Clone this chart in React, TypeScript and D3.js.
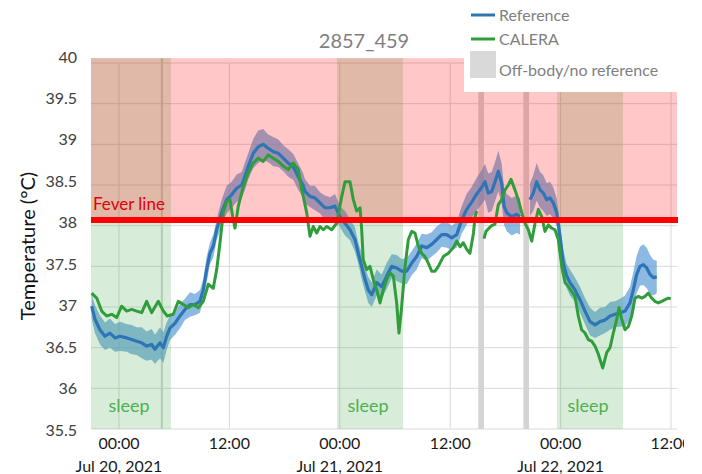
import React, { useEffect, useRef } from "react";
import * as d3 from "d3";

// ---- data (hours since 2021-07-20 00:00) ----
const refHours = [-2.97, -2.61, -2.07, -1.52, -0.98, -0.43, 0.11, 0.84, 1.38, 1.92, 2.47, 3.01, 3.55, 3.91, 4.46, 4.82, 5.18, 5.54, 6.09, 6.63, 7.17, 7.72, 8.26, 8.8, 9.16, 9.53, 9.89, 10.25, 10.62, 11.16, 11.71, 12.25, 12.79, 13.34, 13.7, 14.05, 14.6, 15.14, 15.68, 16.23, 16.77, 17.32, 17.86, 18.4, 18.95, 19.49, 20.0, 20.22, 20.76, 21.3, 21.85, 22.39, 22.93, 23.48, 24.02, 24.57, 25.11, 25.65, 26.01, 26.38, 26.74, 27.1, 27.47, 28.01, 28.55, 29.1, 29.64, 30.18, 30.73, 31.27, 31.82, 32.36, 32.9, 33.45, 33.99, 34.53, 35.08, 35.62, 36.16, 36.71, 37.25, 37.79, 38.34, 38.88, 39.42, 39.78, 40.14, 40.51, 40.87, 41.23, 41.6, 41.85, 42.14, 42.68, 43.23, 43.59, 44.1, 44.67, 45.03, 45.4, 45.76, 46.12, 46.49, 46.85, 47.21, 47.58, 47.93, 48.29, 48.66, 49.02, 49.57, 50.11, 50.65, 51.2, 51.74, 52.28, 52.83, 53.37, 53.91, 54.46, 55.0, 55.54, 55.9, 56.27, 56.63, 56.99, 57.36, 57.72, 58.08, 58.45];
const refValues = [37.01, 36.85, 36.72, 36.64, 36.68, 36.62, 36.64, 36.62, 36.6, 36.58, 36.56, 36.52, 36.54, 36.48, 36.56, 36.5, 36.64, 36.74, 36.8, 36.89, 36.97, 37.03, 37.03, 37.07, 37.21, 37.46, 37.66, 37.75, 37.95, 38.16, 38.32, 38.38, 38.46, 38.5, 38.61, 38.73, 38.89, 38.97, 39.0, 38.95, 38.91, 38.89, 38.83, 38.77, 38.72, 38.6, 38.5, 38.42, 38.36, 38.34, 38.28, 38.22, 38.22, 38.24, 38.11, 38.03, 37.95, 37.83, 37.66, 37.5, 37.34, 37.21, 37.15, 37.3, 37.25, 37.38, 37.5, 37.48, 37.44, 37.44, 37.54, 37.62, 37.75, 37.73, 37.77, 37.83, 37.89, 37.89, 37.85, 37.89, 38.07, 38.2, 38.29, 38.39, 38.47, 38.54, 38.4, 38.42, 38.54, 38.67, 38.52, 38.24, 38.16, 38.11, 38.14, 38.11, null, 38.32, 38.4, 38.54, 38.44, 38.4, 38.32, 38.34, 38.28, 38.16, 37.87, 37.54, 37.38, 37.3, 37.21, 37.09, 36.95, 36.82, 36.78, 36.82, 36.84, 36.89, 36.91, 36.93, 36.95, 37.05, 37.21, 37.4, 37.5, 37.52, 37.48, 37.4, 37.36, 37.37];
const refSpread = [
  0.15, 0.17, 0.18, 0.17, 0.18, 0.17, 0.18, 0.17, 0.18, 0.17,
  0.19, 0.18, 0.19, 0.18, 0.19, 0.19, 0.17, 0.15, 0.14, 0.15,
  0.13, 0.15, 0.13, 0.14, 0.13, 0.16, 0.13, 0.14, 0.13, 0.16,
  0.17, 0.16, 0.17, 0.16, 0.17, 0.16, 0.18, 0.2, 0.19, 0.17,
  0.18, 0.17, 0.16, 0.17, 0.16, 0.16, 0.15, 0.15, 0.13, 0.15,
  0.13, 0.15, 0.13, 0.15, 0.13, 0.15, 0.13, 0.15, 0.13, 0.16,
  0.15, 0.16, 0.15, 0.16, 0.15, 0.16, 0.15, 0.16, 0.15, 0.16,
  0.15, 0.16, 0.15, 0.16, 0.15, 0.16, 0.15, 0.16, 0.15, 0.16,
  0.17, 0.19, 0.19, 0.2, 0.21, 0.22, 0.24, 0.24, 0.24, 0.25,
  0.24, 0.23, 0.23, 0.23, 0.23, 0.22, 0, 0.2, 0.22, 0.23,
  0.22, 0.22, 0.2, 0.2, 0.19, 0.17, 0.16, 0.16, 0.15, 0.16,
  0.15, 0.16, 0.16, 0.17, 0.16, 0.17, 0.16, 0.17, 0.16, 0.17,
  0.19, 0.2, 0.22, 0.23, 0.24, 0.25, 0.25, 0.24, 0.22, 0.2,
];

const caleraHours = [-2.97, -2.42, -1.88, -1.34, -0.79, -0.25, 0.29, 0.84, 1.38, 1.92, 2.47, 3.01, 3.55, 4.27, 4.82, 5.25, 5.9, 6.45, 6.99, 7.53, 8.08, 8.62, 9.16, 9.71, 10.25, 10.62, 10.98, 11.34, 11.71, 12.07, 12.36, 12.61, 12.97, 13.51, 14.05, 14.6, 15.14, 15.68, 16.23, 16.77, 17.32, 17.86, 18.4, 18.95, 19.49, 19.85, 20.03, 20.4, 20.76, 21.12, 21.49, 21.85, 22.21, 22.58, 23.12, 23.66, 24.21, 24.57, 25.11, 25.47, 25.84, 26.2, 26.38, 26.55, 26.92, 27.28, 27.64, 28.01, 28.37, 28.73, 29.1, 29.46, 29.82, 30.18, 30.43, 30.73, 31.09, 31.45, 31.82, 32.17, 32.53, 32.9, 33.26, 33.62, 33.99, 34.35, 34.71, 35.25, 35.79, 36.34, 36.71, 37.07, 37.42, 37.79, 38.15, 38.53, 38.7, 38.88, 39.3, 39.67, 39.89, 40.14, 40.51, 40.87, 41.23, 41.6, 41.96, 42.32, 42.61, 43.04, 43.4, 43.77, 44.13, 44.49, 44.86, 45.22, 45.58, 45.95, 46.3, 46.66, 47.03, 47.39, 47.75, 48.12, 48.48, 48.84, 49.21, 49.57, 49.92, 50.29, 50.65, 51.01, 51.38, 51.74, 52.1, 52.58, 53.01, 53.37, 53.73, 54.1, 54.35, 54.64, 55.0, 55.36, 55.73, 56.09, 56.45, 56.82, 57.17, 57.53, 57.9, 58.26, 58.62, 58.99, 59.35, 59.71, 59.97];
const caleraValues = [37.17, 37.11, 36.95, 36.89, 36.91, 36.87, 37.01, 36.95, 36.97, 36.95, 36.93, 37.07, 36.93, 37.07, 36.95, 36.89, 36.91, 37.07, 37.03, 36.99, 37.03, 36.99, 37.07, 37.28, 37.23, 37.46, 37.79, 38.16, 38.3, 38.32, 38.11, 37.97, 38.24, 38.48, 38.65, 38.77, 38.83, 38.79, 38.87, 38.83, 38.79, 38.73, 38.69, 38.77, 38.69, 38.45, 38.36, 38.16, 37.87, 37.99, 37.91, 37.99, 37.95, 37.99, 37.95, 38.03, 38.36, 38.54, 38.54, 38.32, 38.18, 38.22, 37.95, 37.58, 37.46, 37.5, 37.34, 37.21, 37.05, 37.21, 37.34, 37.42, 37.38, 37.05, 36.68, 37.01, 37.5, 37.83, 37.93, 37.91, 37.75, 37.66, 37.62, 37.54, 37.44, 37.44, 37.5, 37.62, 37.66, 37.73, 37.81, 37.74, 37.79, 37.71, 37.66, 37.91, 38.11, 38.18, null, 37.84, 37.93, 37.96, 38.0, 38.02, 38.26, 38.32, 38.44, 38.5, 38.57, 38.44, 38.32, 38.16, 38.03, 37.95, 37.81, 38.03, 38.2, 38.11, 37.93, 38.01, 37.97, 37.95, 37.83, 37.5, 37.3, 37.25, 37.19, 37.13, 36.89, 36.72, 36.68, 36.6, 36.58, 36.52, 36.42, 36.25, 36.44, 36.5, 36.68, 36.85, 36.99, 36.85, 36.72, 36.76, 36.89, 37.11, 37.13, 37.11, 37.13, 37.17, 37.11, 37.07, 37.05, 37.07, 37.09, 37.11, 37.1];

const sleepStart = [-3.04, 23.7, 47.61];
const sleepEnd = [5.65, 30.87, 54.78];
const offBodyStart = [4.55, 39.05, 43.95];
const offBodyEnd = [4.78, 39.67, 44.57];

const yTicks = [35.5, 36, 36.5, 37, 37.5, 38, 38.5, 39, 39.5, 40];
const xTickHours = [0, 12, 24, 36, 48, 60];
const FEVER = 38.07;
const SHADE_TOP = 40.06;
const TITLE = "2857_459";

const BASE = new Date(2021, 6, 20, 0, 0, 0).getTime();
const h2d = (h: number) => new Date(BASE + h * 3600 * 1000);

const FONT = "Lato, 'Open Sans', sans-serif";

export default function App() {
  const ref = useRef<SVGSVGElement>(null);

  useEffect(() => {
    const svg = d3.select(ref.current);
    svg.selectAll("*").remove();

    const x = d3.scaleTime().domain([h2d(-3.04), h2d(60.65)]).range([91, 677]);
    const y = d3.scaleLinear().domain([35.5, 40]).range([429, 63]);
    const labelY = d3.scaleLinear().domain([35.5, 40]).range([430, 57]);

    const defs = svg.append("defs");
    defs.append("clipPath").attr("id", "xclip").append("rect").attr("x", 0).attr("y", 0).attr("width", 684).attr("height", 474);

    // gridlines
    const grid = svg.append("g");
    grid.selectAll("line.h").data(yTicks).join("line")
      .attr("x1", 91).attr("x2", 677)
      .attr("y1", d => y(d)).attr("y2", d => y(d))
      .attr("stroke", "#d9d9d9").attr("stroke-width", 1);
    grid.selectAll("line.v").data(xTickHours).join("line")
      .attr("x1", d => x(h2d(d))).attr("x2", d => x(h2d(d)))
      .attr("y1", y(40)).attr("y2", y(35.5))
      .attr("stroke", "#d9d9d9").attr("stroke-width", 1);

    // off-body bars
    svg.append("g").selectAll("rect").data(offBodyStart).join("rect")
      .attr("x", (d) => x(h2d(d)))
      .attr("width", (d, i) => x(h2d(offBodyEnd[i])) - x(h2d(d)))
      .attr("y", y(SHADE_TOP)).attr("height", y(35.5) - y(SHADE_TOP))
      .attr("fill", "#d4d4d4");

    // reference band
    const refData = refHours.map((h, i) => ({ t: h2d(h), v: refValues[i], s: refSpread[i] }));
    const area = d3.area<any>()
      .defined(d => d.v != null)
      .x(d => x(d.t))
      .y0(d => y(d.v - d.s))
      .y1(d => y(d.v + d.s));
    svg.append("path").datum(refData).attr("d", area as any)
      .attr("fill", "#5b9bd5").attr("fill-opacity", 0.7);

    // sleep overlays
    svg.append("g").selectAll("rect").data(sleepStart).join("rect")
      .attr("x", d => x(h2d(d)))
      .attr("width", (d, i) => x(h2d(sleepEnd[i])) - x(h2d(d)))
      .attr("y", y(SHADE_TOP)).attr("height", y(35.5) - y(SHADE_TOP))
      .attr("fill", "rgb(76,175,80)").attr("fill-opacity", 0.22);

    // fever region overlay
    svg.append("rect")
      .attr("x", 91).attr("width", 677 - 91)
      .attr("y", y(SHADE_TOP)).attr("height", y(FEVER) - y(SHADE_TOP))
      .attr("fill", "rgb(255,0,0)").attr("fill-opacity", 0.22);

    // lines
    const line = d3.line<any>().defined(d => d.v != null).x(d => x(d.t)).y(d => y(d.v));
    svg.append("path").datum(refData).attr("d", line as any)
      .attr("fill", "none").attr("stroke", "#2e75b6").attr("stroke-width", 3.2).attr("stroke-linejoin", "round");
    const calData = caleraHours.map((h, i) => ({ t: h2d(h), v: caleraValues[i] }));
    svg.append("path").datum(calData).attr("d", line as any)
      .attr("fill", "none").attr("stroke", "#2f9e3a").attr("stroke-width", 3).attr("stroke-linejoin", "round");

    // fever line
    svg.append("line").attr("x1", 91).attr("x2", 678).attr("y1", y(FEVER)).attr("y2", y(FEVER))
      .attr("stroke", "#ff0000").attr("stroke-width", 6);
    svg.append("text").attr("x", 93).attr("y", y(FEVER) - 10).text("Fever line")
      .attr("fill", "#e30000").attr("font-size", 17).attr("font-family", FONT);

    // sleep labels
    svg.append("g").selectAll("text").data(sleepStart).join("text")
      .attr("x", (d, i) => (x(h2d(d)) + x(h2d(sleepEnd[i]))) / 2 - 2)
      .attr("y", 412)
      .attr("text-anchor", "middle")
      .attr("font-size", 18).attr("font-family", FONT).attr("fill", "#4fb050")
      .text("sleep");

    // y axis labels
    svg.append("g").selectAll("text").data(yTicks).join("text")
      .attr("x", 77).attr("y", d => labelY(d)).attr("dy", "0.35em")
      .attr("text-anchor", "end").attr("font-size", 16).attr("font-family", FONT).attr("fill", "#404040")
      .text(d => String(d));
    svg.append("text")
      .attr("transform", `translate(28,${(y(35.5) + y(40)) / 2}) rotate(-90)`)
      .attr("dy", "0.35em")
      .attr("text-anchor", "middle").attr("font-size", 20).attr("font-family", FONT).attr("fill", "#111111")
      .text("Temperature (°C)");

    // x axis labels
    const xl = svg.append("g").attr("clip-path", "url(#xclip)");
    const fmtT = d3.timeFormat("%H:%M");
    const fmtD = d3.timeFormat("%b %-d, %Y");
    xl.selectAll("text.t").data(xTickHours).join("text")
      .attr("x", d => x(h2d(d))).attr("y", 449)
      .attr("text-anchor", "middle").attr("font-size", 16).attr("font-family", FONT).attr("fill", "#1a1a1a")
      .text(d => fmtT(h2d(d)));
    xl.selectAll("text.d").data(xTickHours.filter(h => h % 24 === 0)).join("text")
      .attr("x", d => x(h2d(d))).attr("y", 472)
      .attr("text-anchor", "middle").attr("font-size", 16).attr("font-family", FONT).attr("fill", "#1a1a1a")
      .text(d => fmtD(h2d(d)));

    // title
    svg.append("text").attr("x", 364).attr("y", 48).attr("text-anchor", "middle")
      .attr("font-size", 20).attr("font-family", FONT).attr("fill", "#7f7f7f").text(TITLE);

    // legend
    const lg = svg.append("g");
    lg.append("rect").attr("x", 464).attr("y", 0).attr("width", 238).attr("height", 92).attr("fill", "#ffffff");
    const items = [
      { label: "Reference", color: "#2e75b6", cy: 15, kind: "line" },
      { label: "CALERA", color: "#2f9e3a", cy: 39, kind: "line" },
      { label: "Off-body/no reference", color: "#d9d9d9", cy: 70, kind: "rect" },
    ];
    items.forEach(it => {
      if (it.kind === "line") {
        lg.append("line").attr("x1", 471).attr("x2", 495).attr("y1", it.cy).attr("y2", it.cy)
          .attr("stroke", it.color).attr("stroke-width", 3);
      } else {
        lg.append("rect").attr("x", 470).attr("y", 51).attr("width", 26).attr("height", 27).attr("fill", it.color);
      }
      lg.append("text").attr("x", 499).attr("y", it.cy).attr("dy", "0.35em")
        .attr("font-size", 16).attr("font-family", FONT).attr("fill", "#808080").text(it.label);
    });
  }, []);

  return (
    <svg ref={ref} width={702} height={474}
      style={{ position: "absolute", left: 0, top: 0, background: "#ffffff" }} />
  );
}
